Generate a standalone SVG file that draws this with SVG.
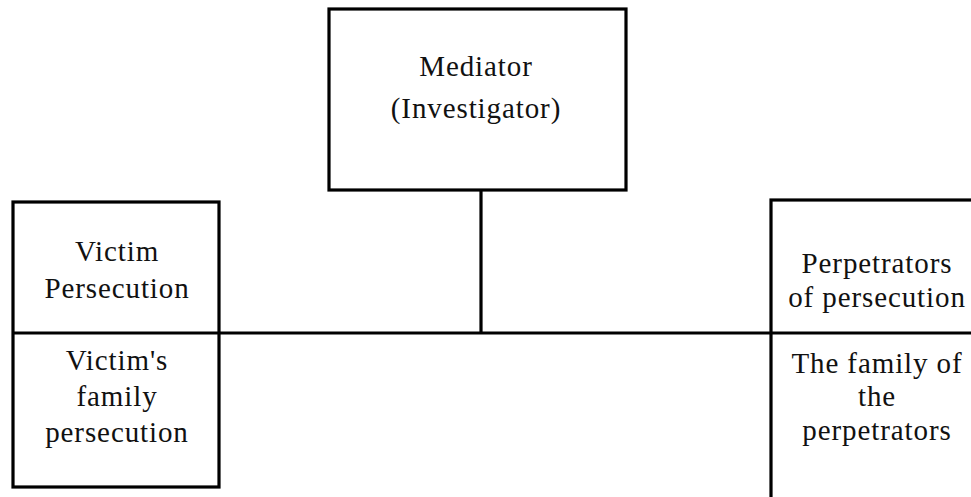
<svg xmlns="http://www.w3.org/2000/svg" width="971" height="497" viewBox="0 0 971 497">
<style>
.box{fill:#fff;stroke:#000;stroke-width:3.2}
.ln{fill:none;stroke:#000;stroke-width:3.2}
text{font-family:"Liberation Serif","Times New Roman",serif;font-size:29px;fill:#111;text-anchor:middle;letter-spacing:0.9px}
</style>
<rect width="971" height="497" fill="#fff"/>
<g id="connectors">
<line class="ln" x1="481" y1="190" x2="481" y2="333"/>
<line class="ln" x1="219" y1="333" x2="771" y2="333"/>
</g>
<g id="mediator">
<rect class="box" x="329" y="9" width="297" height="181"/>
<text x="476" y="76">Mediator</text>
<text x="476" y="118">(Investigator)</text>
</g>
<g id="victim">
<rect class="box" x="13" y="202" width="206" height="285"/>
<line class="ln" x1="13" y1="333" x2="219" y2="333"/>
<text x="117" y="261">Victim</text>
<text x="117" y="298">Persecution</text>
<text x="117" y="370">Victim's</text>
<text x="117" y="406">family</text>
<text x="117" y="442">persecution</text>
</g>
<g id="perpetrators">
<rect class="box" x="771" y="200" width="230" height="320"/>
<line class="ln" x1="771" y1="333" x2="971" y2="333"/>
<text x="877" y="273">Perpetrators</text>
<text x="877" y="307">of persecution</text>
<text x="877" y="373">The family of</text>
<text x="877" y="406">the</text>
<text x="877" y="440">perpetrators</text>
</g>
</svg>
